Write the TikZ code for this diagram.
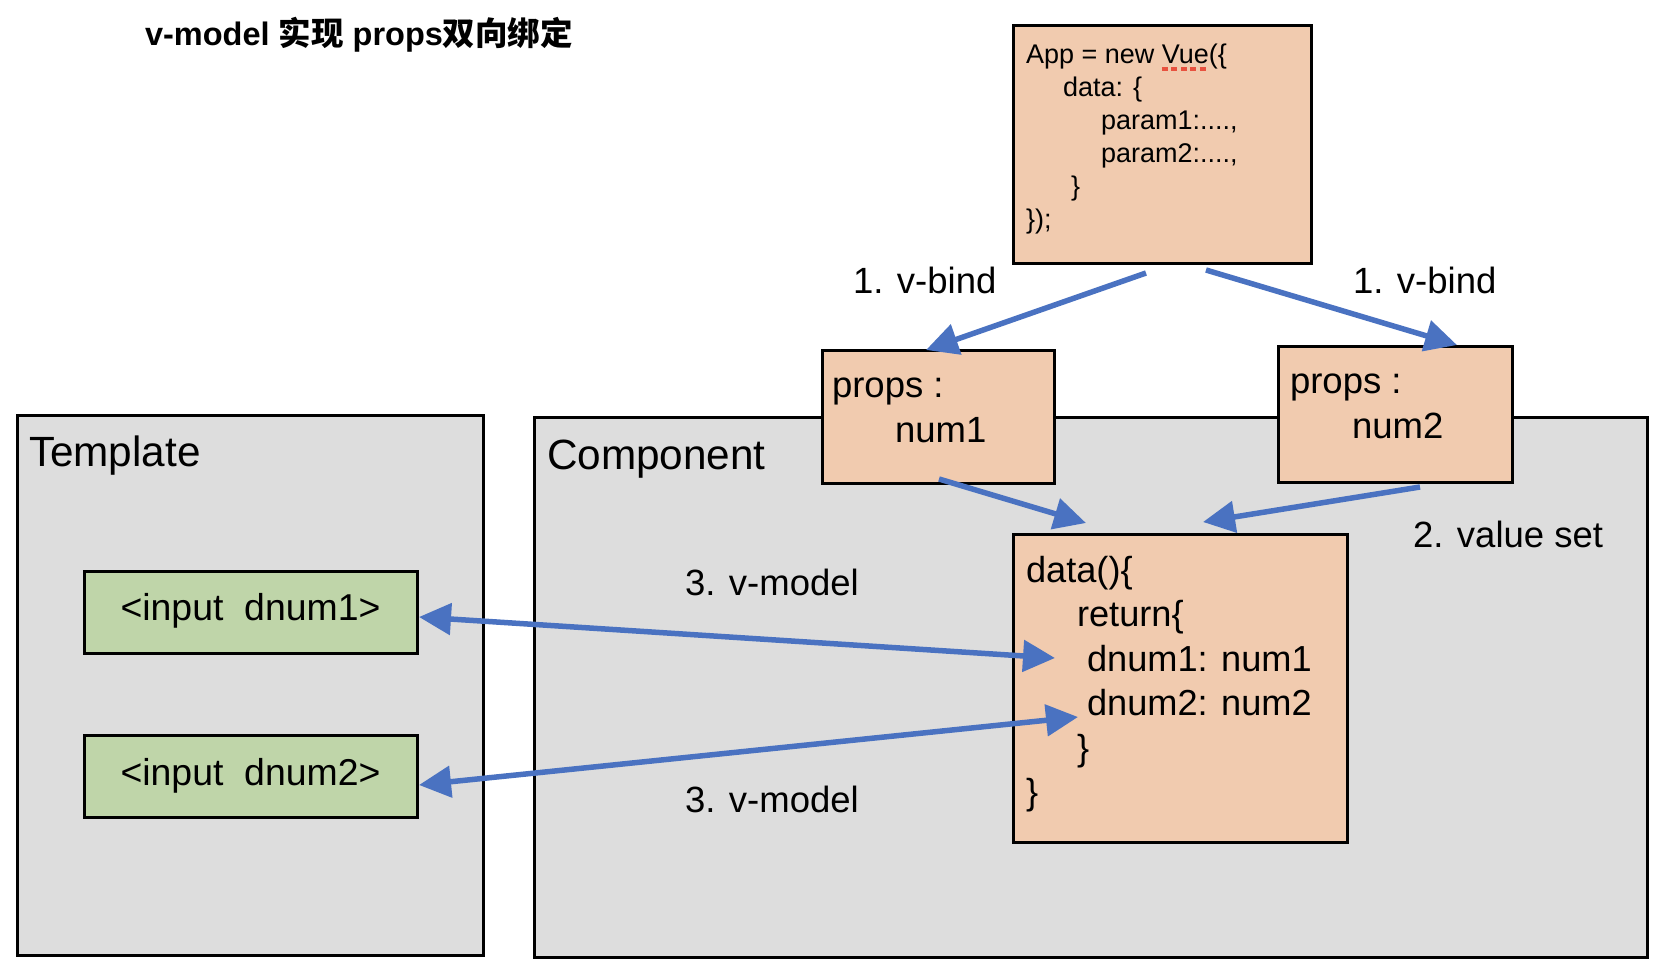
\documentclass[tikz,border=0pt]{standalone}
\usepackage{fontspec}
\setmainfont{Liberation Sans}
\newfontfamily\cjkfont{Noto Sans CJK SC}
\usetikzlibrary{arrows.meta}
\definecolor{panelgray}{HTML}{DDDDDD}
\definecolor{peach}{HTML}{F1CBAF}
\definecolor{leaf}{HTML}{BFD5A9}
\definecolor{flowblue}{HTML}{4A72C1}
\definecolor{spellred}{HTML}{E8523F}
\tikzset{
  panel/.style={draw=black, line width=3pt, fill=panelgray, anchor=north west, inner sep=0pt, outer sep=0pt},
  codebox/.style={draw=black, line width=3pt, fill=peach, anchor=north west, inner sep=0pt, outer sep=0pt},
  inputbox/.style={draw=black, line width=3pt, fill=leaf, anchor=north west, inner sep=0pt, outer sep=0pt},
  txt/.style={anchor=base west, inner sep=0pt, outer sep=0pt},
  paneltxt/.style={txt, font=\fontsize{42.3}{50}\selectfont},
  labeltxt/.style={txt, font=\fontsize{36.5}{44}\selectfont},
  boxtxt/.style={txt, font=\fontsize{36.5}{44}\selectfont},
  codetxt/.style={txt, font=\fontsize{36.2}{44}\selectfont},
  apptxt/.style={txt, font=\fontsize{27}{33}\selectfont},
  flow/.style={draw=flowblue, line width=5.5pt, -{Triangle[length=32pt,width=31pt]}},
  flowboth/.style={draw=flowblue, line width=5.5pt, {Triangle[length=32pt,width=31pt]}-{Triangle[length=32pt,width=31pt]}},
}
\begin{document}
\begin{tikzpicture}[x=1pt,y=-1pt]
\useasboundingbox (0,0) rectangle (1658,974);

% title
\node[txt, font=\fontsize{32.5}{38}\selectfont\bfseries] (title) at (145,46)
  {v-model {\cjkfont\bfseries 实现} props{\cjkfont\bfseries 双向绑定}};

% panels
\node[panel, minimum width=465.5pt, minimum height=540pt] (template) at (17.5,415) {};
\node[panel, minimum width=1113pt, minimum height=540pt] (component) at (534,417) {};
\node[paneltxt] (templatetxt) at (29,466) {Template};
\node[paneltxt] (componenttxt) at (547,469) {Component};

% inputs
\node[inputbox, minimum width=333pt, minimum height=82pt] (input1) at (84,571) {};
\node[inputbox, minimum width=333pt, minimum height=82pt] (input2) at (84,735) {};
\node[anchor=base, inner sep=0pt, font=\fontsize{37.4}{44}\selectfont] (input1txt) at (250.5,620) {<input\ \ dnum1>};
\node[anchor=base, inner sep=0pt, font=\fontsize{37.4}{44}\selectfont] (input2txt) at (250.5,785) {<input\ \ dnum2>};

% App box
\node[codebox, minimum width=298pt, minimum height=237pt] (app) at (1013,26) {};
\node[apptxt] (app1a) at (1026,64) {App = new};
\node[apptxt] (app1b) at ([xshift=7.5pt]app1a.base east) {Vue};
\node[apptxt] (app1c) at (app1b.base east) {(\{};
\draw[spellred, line width=3.5pt, dash pattern=on 6pt off 3.5pt]
  ([yshift=-5pt]app1b.base west) -- ([yshift=-5pt]app1b.base east);
\node[apptxt] (app2) at (1063,96.5) {data: \{};
\node[apptxt] (app3) at (1101,129) {param1:....,};
\node[apptxt] (app4) at (1101,162) {param2:....,};
\node[apptxt] (app5) at (1071,195) {\}};
\node[apptxt] (app6) at (1026,228) {\});};

% props boxes
\node[codebox, minimum width=232pt, minimum height=133pt] (props1) at (822,350) {};
\node[codebox, minimum width=234pt, minimum height=136pt] (props2) at (1278,346) {};
\node[boxtxt] (props1a) at (832,397) {props :};
\node[boxtxt] (props1b) at (895,442) {num1};
\node[boxtxt] (props2a) at (1290,393) {props :};
\node[boxtxt] (props2b) at (1352,438) {num2};

% data box
\node[codebox, minimum width=334pt, minimum height=308pt] (data) at (1013,534) {};
\node[codetxt] (data1) at (1026,582) {data()\{};
\node[codetxt] (data2) at (1077,626.5) {return\{};
\node[codetxt] (data3) at (1087,671) {dnum1: num1};
\node[codetxt] (data4) at (1087,715.5) {dnum2: num2};
\node[codetxt] (data5) at (1077,760) {\}};
\node[codetxt] (data6) at (1026,804.5) {\}};

% labels
\node[labeltxt] (bindl) at (853,293) {1. v-bind};
\node[labeltxt] (bindr) at (1353,293) {1. v-bind};
\node[labeltxt] (valset) at (1413,547) {2. value set};
\node[labeltxt] (vmodel1) at (685,595) {3. v-model};
\node[labeltxt] (vmodel2) at (685,812) {3. v-model};

% connectors
\draw[flow] ([xshift=133pt,yshift=-10pt]app.south west) -- ([xshift=104pt]props1.north west);
\draw[flow] ([xshift=193pt,yshift=-7pt]app.south west) -- ([xshift=179pt,yshift=1pt]props2.north west);
\draw[flow] ([xshift=117pt,yshift=4pt]props1.south west) -- ([xshift=73pt,yshift=11pt]data.north west);
\draw[flow] ([xshift=142pt,yshift=-5pt]props2.south west) -- ([xshift=190pt,yshift=12pt]data.north west);
\draw[flowboth] ([xshift=2pt,yshift=-5pt]input1.east) -- ([xshift=42pt,yshift=-124pt]data.north west);
\draw[flowboth] ([xshift=2pt,yshift=-9pt]input2.east) -- ([xshift=65pt,yshift=-183pt]data.north west);
\end{tikzpicture}
\end{document}
